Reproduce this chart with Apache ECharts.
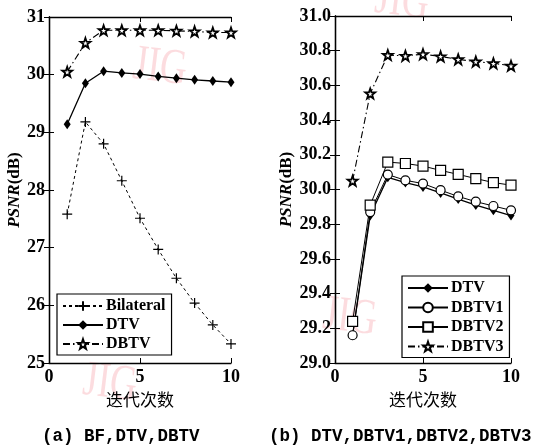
<!DOCTYPE html>
<html>
<head>
<meta charset="utf-8">
<script src="https://cdn.jsdelivr.net/npm/echarts@6/dist/echarts.min.js"></script>
<style>
  html, body { margin: 0; padding: 0; background: #fff; }
  #chart { width: 537px; height: 445px; }
</style>
</head>
<body>
<div id="chart"></div>
<script>
// iterations on x
const iters = [1, 2, 3, 4, 5, 6, 7, 8, 9, 10];

// (a) BF, DTV, DBTV
const bilateral = [27.58, 29.18, 28.80, 28.16, 27.51, 26.97, 26.47, 26.04, 25.66, 25.33];
const dtvA = [29.14, 29.85, 30.06, 30.03, 30.01, 29.97, 29.94, 29.91, 29.89, 29.87];
const dbtvA = [30.05, 30.55, 30.77, 30.77, 30.77, 30.77, 30.76, 30.75, 30.73, 30.73];

// (b) DTV, DBTV1, DBTV2, DBTV3
const dtvB = [29.16, 29.85, 30.07, 30.04, 30.015, 29.98, 29.945, 29.91, 29.88, 29.85];
const dbtv1 = [29.16, 29.87, 30.086, 30.053, 30.034, 29.996, 29.96, 29.93, 29.905, 29.88];
const dbtv2 = [29.24, 29.91, 30.158, 30.15, 30.135, 30.11, 30.087, 30.063, 30.04, 30.025];
const dbtv3 = [30.05, 30.553, 30.775, 30.77, 30.78, 30.767, 30.75, 30.737, 30.727, 30.713];

const xTicksA = [0, 5, 10];
const yRangeA = [25, 31];
const yRangeB = [29, 31];

const serif = '"Liberation Serif", "Times New Roman", serif';
const star = 'path://M0,-1L0.235,-0.324L0.951,-0.309L0.38,0.124L0.588,0.809L0,0.4L-0.588,0.809L-0.38,0.124L-0.951,-0.309L-0.235,-0.324Z';
const plus = 'path://M0,-1L0,1M-1,0L1,0';

function pairs(ys) { return iters.map((x, i) => [x, ys[i]]); }

function xAxes(gi) {
  const base = {
    type: 'value', gridIndex: gi, min: xTicksA[0], max: xTicksA[xTicksA.length - 1], interval: 5,
    axisLine: { lineStyle: { color: '#000', width: 1.3 } },
    axisTick: { inside: true, length: 5, lineStyle: { color: '#000' } },
    splitLine: { show: false }
  };
  return [
    Object.assign({}, base, {
      position: 'bottom',
      axisLabel: { color: '#000', fontFamily: serif, fontSize: 18, fontWeight: 'bold', margin: 5 },
      name: '迭代次数', nameLocation: 'middle', nameGap: 26,
      nameTextStyle: { color: '#000', fontFamily: '"Noto Sans CJK SC"', fontSize: 17 }
    }),
    Object.assign({}, base, { position: 'top', axisLabel: { show: false } })
  ];
}

function yAxes(gi, range, step, dec, gap) {
  const base = {
    type: 'value', gridIndex: gi, min: range[0], max: range[1], interval: step,
    axisLine: { show: true, lineStyle: { color: '#000', width: 1.3 } },
    axisTick: { show: true, inside: true, length: 5, lineStyle: { color: '#000' } },
    splitLine: { show: false }
  };
  return [
    Object.assign({}, base, {
      position: 'left',
      axisLabel: { color: '#000', fontFamily: serif, fontSize: 18, fontWeight: 'bold', margin: 4,
        formatter: v => v.toFixed(dec) },
      name: '{i|PSNR}(dB)', nameLocation: 'middle', nameGap: gap,
      nameTextStyle: { color: '#000', fontFamily: serif, fontSize: 17, fontWeight: 'bold',
        rich: { i: { fontStyle: 'italic', fontFamily: serif, fontSize: 17, fontWeight: 'bold' } } }
    }),
    Object.assign({}, base, { position: 'right', axisLabel: { show: false } })
  ];
}

function ln(name, data, xi, yi, opts) {
  return Object.assign({
    name: name, type: 'line', xAxisIndex: xi, yAxisIndex: yi, data: pairs(data),
    symbolSize: 8, z: 3
  }, opts);
}

const chart = echarts.init(document.getElementById('chart'));

const wm = (x, y, size) => ({
  type: 'text', left: x, top: y, rotation: -0.12, silent: true, z: 0, scaleX: 0.75,
  style: { text: 'JIG', fill: 'rgba(245,140,150,0.3)', font: size + 'px ' + serif }
});

const legendText = { color: '#000', fontFamily: serif, fontSize: 16, fontWeight: 'bold', padding: [0, 0, 0, -2] };

chart.setOption({
  animation: false,
  backgroundColor: '#fff',
  grid: [
    { left: 49, top: 17, width: 182, height: 346 },
    { left: 335, top: 16, width: 176, height: 347 }
  ],
  xAxis: xAxes(0).concat(xAxes(1)),
  yAxis: yAxes(0, yRangeA, 1, 0, 25).concat(yAxes(1, yRangeB, 0.2, 1, 39)),
  legend: [
    {
      data: ['Bilateral', 'DTV', 'DBTV'], orient: 'vertical', left: 57, top: 294,
      itemWidth: 40, itemHeight: 12, itemGap: 3, padding: [4, 6, 3, 5],
      borderColor: '#000', borderWidth: 1.2, backgroundColor: '#fff', borderRadius: 0,
      textStyle: legendText
    },
    {
      data: ['DTV', 'DBTV1', 'DBTV2', 'DBTV3'], orient: 'vertical', left: 402, top: 276,
      itemWidth: 40, itemHeight: 12, itemGap: 3.5, padding: [4, 6, 3, 5],
      borderColor: '#000', borderWidth: 1.2, backgroundColor: '#fff', borderRadius: 0,
      textStyle: legendText
    }
  ],
  series: [
    ln('Bilateral', bilateral, 0, 0, {
      symbol: plus, symbolSize: 10,
      itemStyle: { color: '#000', borderColor: '#000', borderWidth: 1.2 },
      lineStyle: { color: '#000', width: 1, type: [3, 3] }
    }),
    ln('DTV', dtvA, 0, 0, {
      symbol: 'diamond', symbolSize: [7, 10],
      itemStyle: { color: '#000' },
      lineStyle: { color: '#000', width: 1.3, type: 'solid' }
    }),
    ln('DBTV', dbtvA, 0, 0, {
      symbol: star, symbolSize: 10,
      itemStyle: { color: '#fff', borderColor: '#000', borderWidth: 1.8 },
      lineStyle: { color: '#000', width: 1.1, type: [7, 3, 1.5, 3] }
    }),
    ln('DTV', dtvB, 2, 2, {
      symbol: 'diamond', symbolSize: [7, 10],
      itemStyle: { color: '#000' },
      lineStyle: { color: '#000', width: 1.3, type: 'solid' }
    }),
    ln('DBTV1', dbtv1, 2, 2, {
      symbol: 'circle', symbolSize: 9,
      itemStyle: { color: '#fff', borderColor: '#000', borderWidth: 1.2 },
      lineStyle: { color: '#000', width: 1, type: 'solid' }
    }),
    ln('DBTV2', dbtv2, 2, 2, {
      symbol: 'rect', symbolSize: 10,
      itemStyle: { color: '#fff', borderColor: '#000', borderWidth: 1.2 },
      lineStyle: { color: '#000', width: 1, type: 'solid' }
    }),
    ln('DBTV3', dbtv3, 2, 2, {
      symbol: star, symbolSize: 10,
      itemStyle: { color: '#fff', borderColor: '#000', borderWidth: 1.8 },
      lineStyle: { color: '#000', width: 1.1, type: [7, 3, 1.5, 3] }
    })
  ],
  graphic: [
    wm(130, 40, 50), wm(80, 356, 50), wm(320, 290, 50), wm(372, -26, 50),
    {
      type: 'text', left: 42, top: 428, silent: true,
      style: { text: '(a) BF,DTV,DBTV', fill: '#000', font: 'bold 17.5px "Liberation Mono", monospace' }
    },
    {
      type: 'text', left: 269, top: 428, silent: true,
      style: { text: '(b) DTV,DBTV1,DBTV2,DBTV3', fill: '#000', font: 'bold 17.5px "Liberation Mono", monospace' }
    }
  ]
});
</script>
</body>
</html>
